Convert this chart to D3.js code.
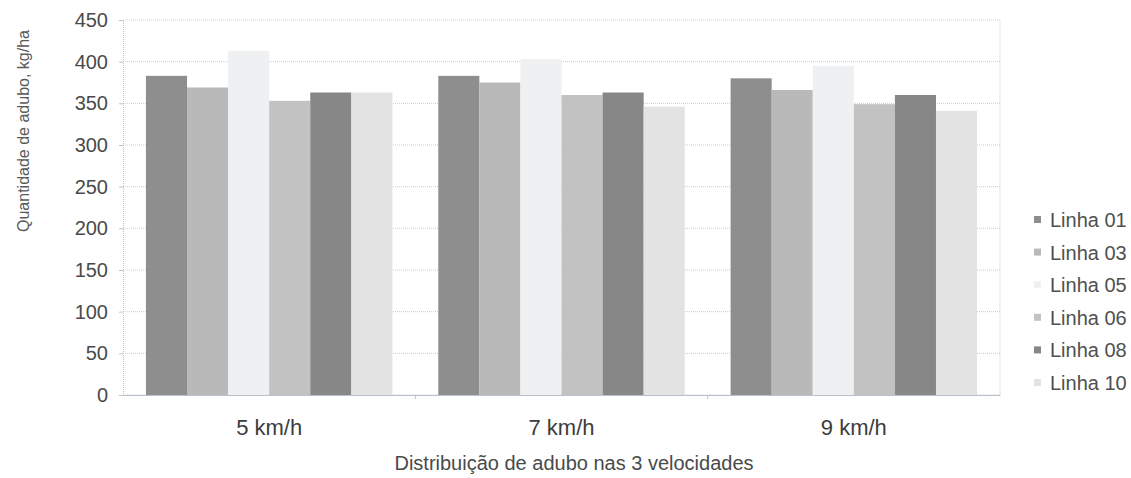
<!DOCTYPE html>
<html>
<head>
<meta charset="utf-8">
<script src="https://cdn.jsdelivr.net/npm/d3@7"></script>
<style>
   body { margin: 0; background: #fff; }
   svg text { font-family: "Liberation Sans", Arial, sans-serif; }
</style>
</head>
<body>
<svg id="chart" width="1131" height="478"></svg>
<script>
// Data
const categories = ["5 km/h", "7 km/h", "9 km/h"];
const seriesNames = ["Linha 01", "Linha 03", "Linha 05", "Linha 06", "Linha 08", "Linha 10"];
const linha01 = [383, 383, 380];
const linha03 = [369, 375, 366];
const linha05 = [413, 403, 395];
const linha06 = [353, 360, 349];
const linha08 = [363, 363, 360];
const linha10 = [363, 346, 341];
const yTicks = [0, 50, 100, 150, 200, 250, 300, 350, 400, 450];

const seriesValues = [linha01, linha03, linha05, linha06, linha08, linha10];
const colors = ["#8e8e8e", "#b9b9b9", "#eef0f2", "#c2c2c2", "#878787", "#e3e3e3"];

const svg = d3.select("#chart");
const margin = { left: 123, right: 131, top: 20, bottom: 83 };
const width = 1131, height = 478;

const x0 = d3.scaleBand()
   .domain(categories)
   .range([margin.left, width - margin.right]);

const gap = x0.bandwidth() * 0.157;
const x1 = d3.scaleBand()
   .domain(seriesNames)
   .range([gap / 2, x0.bandwidth() - gap / 2]);

const y = d3.scaleLinear()
   .domain([0, 450])
   .range([height - margin.bottom, margin.top]);

// Gridlines
svg.append("g")
   .selectAll("line")
   .data(yTicks)
   .enter()
   .append("line")
   .attr("x1", margin.left)
   .attr("x2", width - margin.right)
   .attr("y1", (d) => y(d))
   .attr("y2", (d) => y(d))
   .attr("stroke", "#c9ccd2")
   .attr("stroke-width", 1)
   .attr("stroke-dasharray", "1,1");

// Right border
svg.append("line")
   .attr("x1", width - margin.right)
   .attr("x2", width - margin.right)
   .attr("y1", y(450))
   .attr("y2", y(0))
   .attr("stroke", "#c9ccd2")
   .attr("stroke-dasharray", "1,1");

// Bars
const groups = svg.append("g")
   .selectAll("g")
   .data(categories)
   .enter()
   .append("g")
   .attr("transform", (d) => `translate(${x0(d)},0)`);

groups.selectAll("rect")
   .data((c, ci) => seriesNames.map((s, si) => ({ s, si, v: seriesValues[si][ci] })))
   .enter()
   .append("rect")
   .attr("x", (d) => x1(d.s))
   .attr("width", x1.bandwidth())
   .attr("y", (d) => y(d.v))
   .attr("height", (d) => y(0) - y(d.v))
   .attr("fill", (d) => colors[d.si]);

// Y axis
const yAxis = svg.append("g")
   .attr("transform", `translate(${margin.left},0)`)
   .call(d3.axisLeft(y).tickValues(yTicks).tickSize(4).tickPadding(11));
yAxis.select(".domain").attr("stroke", "#b8c2cc").attr("stroke-dasharray", "1,1");
yAxis.selectAll(".tick line").attr("stroke", "#b8c2cc");
yAxis.selectAll("text")
   .style("font-size", "20px")
   .attr("fill", "#4a4a4a");

// X axis
const xAxis = svg.append("g")
   .attr("transform", `translate(0,${y(0)})`)
   .call(d3.axisBottom(x0).tickSize(0).tickPadding(24));
xAxis.select(".domain").attr("stroke", "#b8c2cc");
xAxis.selectAll("text")
   .style("font-size", "22px")
   .attr("fill", "#3c3c3c");

// Category separators
svg.append("g")
   .selectAll("line")
   .data(categories.slice(1))
   .enter()
   .append("line")
   .attr("x1", (d) => x0(d))
   .attr("x2", (d) => x0(d))
   .attr("y1", y(0))
   .attr("y2", y(0) + 4)
   .attr("stroke", "#b8c2cc");

// Axis titles
svg.append("text")
   .attr("transform", "translate(29,131) rotate(-90)")
   .attr("text-anchor", "middle")
   .style("font-size", "16px")
   .attr("fill", "#5a5a5a")
   .text("Quantidade de adubo, kg/ha");

svg.append("text")
   .attr("x", 574)
   .attr("y", 470)
   .attr("text-anchor", "middle")
   .style("font-size", "20px")
   .attr("fill", "#4a4a4a")
   .text("Distribuição de adubo nas 3 velocidades");

// Legend
const legend = svg.append("g")
   .selectAll("g")
   .data(seriesNames)
   .enter()
   .append("g")
   .attr("transform", (d, i) => `translate(1034,${220 + i * 32.6})`);

legend.append("rect")
   .attr("x", 0)
   .attr("y", -4)
   .attr("width", 7)
   .attr("height", 7)
   .attr("fill", (d, i) => colors[i]);

legend.append("text")
   .attr("x", 16)
   .attr("y", 7)
   .style("font-size", "20px")
   .attr("fill", "#505050")
   .text((d) => d);
</script>
</body>
</html>
